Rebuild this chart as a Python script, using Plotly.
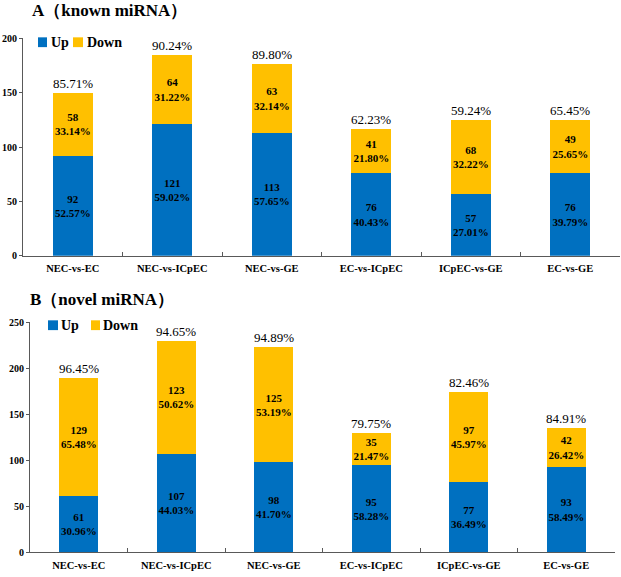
import plotly.graph_objects as go

categories = ["NEC-vs-EC", "NEC-vs-ICpEC", "NEC-vs-GE", "EC-vs-ICpEC", "ICpEC-vs-GE", "EC-vs-GE"]

# Panel A: known miRNA
a_up = [92, 121, 113, 76, 57, 76]
a_down = [58, 64, 63, 41, 68, 49]
a_up_pct = ["52.57%", "59.02%", "57.65%", "40.43%", "27.01%", "39.79%"]
a_down_pct = ["33.14%", "31.22%", "32.14%", "21.80%", "32.22%", "25.65%"]
a_total_pct = ["85.71%", "90.24%", "89.80%", "62.23%", "59.24%", "65.45%"]

# Panel B: novel miRNA
b_up = [61, 107, 98, 95, 77, 93]
b_down = [129, 123, 125, 35, 97, 42]
b_up_pct = ["30.96%", "44.03%", "41.70%", "58.28%", "36.49%", "58.49%"]
b_down_pct = ["65.48%", "50.62%", "53.19%", "21.47%", "45.97%", "26.42%"]
b_total_pct = ["96.45%", "94.65%", "94.89%", "79.75%", "82.46%", "84.91%"]

a_yticks = [0, 50, 100, 150, 200]
b_yticks = [0, 50, 100, 150, 200, 250]

series_names = ["Up", "Down"]
BLUE = "#0070C0"
YELLOW = "#FFC000"
SERIF = "Times New Roman, Liberation Serif, serif"
AXIS = "#595959"
W, H = 621, 577

fig = go.Figure()

def add_panel(up, down, up_pct, down_pct, xa, ya):
    for vals, pcts, name, col in ((up, up_pct, "Up", BLUE), (down, down_pct, "Down", YELLOW)):
        fig.add_trace(go.Bar(
            x=categories, y=vals, name=name, marker=dict(color=col, line=dict(width=0)),
            text=[f"<b>{v}<br>{p}</b>" for v, p in zip(vals, pcts)],
            textposition="inside", insidetextanchor="middle", textangle=0,
            constraintext="none",
            insidetextfont=dict(family=SERIF, size=11, color="black"),
            xaxis=xa, yaxis=ya, showlegend=False, hoverinfo="skip"))

add_panel(a_up, a_down, a_up_pct, a_down_pct, "x", "y")
add_panel(b_up, b_down, b_up_pct, b_down_pct, "x2", "y2")

annotations = []
for c, u, d, t in zip(categories, a_up, a_down, a_total_pct):
    annotations.append(dict(x=c, y=u + d, xref="x", yref="y", text=t, showarrow=False,
                            yanchor="bottom", font=dict(family=SERIF, size=13, color="black")))
for c, u, d, t in zip(categories, b_up, b_down, b_total_pct):
    annotations.append(dict(x=c, y=u + d, xref="x2", yref="y2", text=t, showarrow=False,
                            yanchor="bottom", font=dict(family=SERIF, size=13, color="black")))

TITLE_FONT = dict(family=SERIF, size=17, color="black")
annotations.append(dict(x=30 / W, y=1 - 5 / H, xref="paper", yref="paper", xanchor="left", yanchor="middle",
                        text="<b>A（known miRNA）</b>", showarrow=False, font=TITLE_FONT))
annotations.append(dict(x=28 / W, y=1 - 300 / H, xref="paper", yref="paper", xanchor="left", yanchor="middle",
                        text="<b>B（novel miRNA）</b>", showarrow=False, font=TITLE_FONT))

# custom compact legends (pixel layout -> paper coords)
shapes = []
LEG_FONT = dict(family=SERIF, size=14, color="black")
def add_legend(cy, items):
    for (sx0, sx1, tx), name, col in zip(items, series_names, (BLUE, YELLOW)):
        shapes.append(dict(type="rect", xref="paper", yref="paper",
                           x0=sx0 / W, x1=sx1 / W, y0=1 - (cy + 5) / H, y1=1 - (cy - 5) / H,
                           fillcolor=col, line=dict(width=0)))
        annotations.append(dict(x=tx / W, y=1 - cy / H, xref="paper", yref="paper", xanchor="left",
                                yanchor="middle", text=f"<b>{name}</b>", showarrow=False, font=LEG_FONT))

add_legend(37, [(38, 47, 49), (73, 83, 85)])
add_legend(326, [(48, 58, 59), (91, 100, 101)])

xaxis_common = dict(type="category", showline=True, linecolor=AXIS, linewidth=1, ticks="inside",
                    tickson="boundaries", ticklen=4, tickcolor=AXIS, showgrid=False, ticklabelstandoff=3,
                    tickfont=dict(family=SERIF, size=10.5, color="black", weight="bold"))
yaxis_common = dict(showline=True, linecolor=AXIS, linewidth=1, ticks="outside", ticklen=3, tickcolor=AXIS,
                    showgrid=False, zeroline=False,
                    tickfont=dict(family=SERIF, size=10, color="black", weight="bold"))

fig.update_layout(
    width=W, height=H, margin=dict(l=0, r=0, t=0, b=0),
    font=dict(family=SERIF, color="black"),
    paper_bgcolor="white", plot_bgcolor="white",
    barmode="stack", bargap=0.6, showlegend=False,
    xaxis=dict(domain=[23 / W, 620 / W], anchor="y", **xaxis_common),
    yaxis=dict(domain=[1 - 255 / H, 1 - 33 / H], anchor="x", range=[0, 200], tickvals=a_yticks, **yaxis_common),
    xaxis2=dict(domain=[30 / W, 615 / W], anchor="y2", **xaxis_common),
    yaxis2=dict(domain=[1 - 558 / H, 1 - 323 / H], anchor="x2", range=[0, 250], tickvals=b_yticks, **yaxis_common),
    annotations=annotations,
    shapes=shapes,
)

fig.write_html("out.html", config={"displayModeBar": False},
               post_script="document.body.style.margin='0';document.body.style.overflow='hidden';")
